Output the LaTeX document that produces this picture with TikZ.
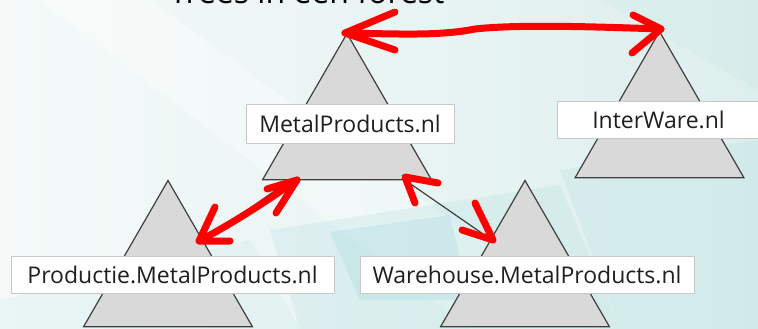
\documentclass[tikz,border=0pt]{standalone}
\usepackage{fontspec}
\setmainfont{Open Sans}
\usetikzlibrary{shapes.geometric}
\definecolor{bgA}{HTML}{F5FAF9}
\definecolor{bgB}{HTML}{DDEFED}
\definecolor{tealS}{HTML}{8FCFD6}
\definecolor{trifill}{HTML}{D9D9D9}
\definecolor{triline}{HTML}{3F3F3F}
\definecolor{lblline}{HTML}{C8C8C8}
\definecolor{redpen}{HTML}{FF0000}
\begin{document}
\begin{tikzpicture}[x=1pt,y=-1pt,
 tri/.style={regular polygon, regular polygon sides=3, minimum size=195pt, inner sep=0pt, fill=trifill, draw=triline, line width=1.2pt},
 lbl/.style={rectangle, fill=white, draw=lblline, line width=0.6pt, minimum height=37pt, inner sep=0pt, font=\fontsize{23}{26}\selectfont, text=black!88},
 pen/.style={draw=redpen, line width=7pt, line cap=round, line join=round},
 link/.style={draw=triline, line width=1.2pt}
]
\useasboundingbox (0,0) rectangle (758,329);
% background
\shade[left color=bgA, right color=bgB] (0,0) rectangle (758,329);
\fill[white, opacity=0.35] (40,0) -- (150,0) -- (600,329) -- (470,329) -- cycle;
\fill[tealS, opacity=0.16] (270,230) -- (560,185) -- (620,329) -- (300,329) -- cycle;
\fill[tealS, opacity=0.22] (330,232) -- (450,215) -- (470,300) -- (360,300) -- cycle;
\fill[tealS, opacity=0.15] (560,170) -- (758,140) -- (758,329) -- (620,329) -- cycle;
\fill[tealS, opacity=0.10] (0,300) -- (250,240) -- (300,329) -- (0,329) -- cycle;
\fill[tealS, opacity=0.08] (600,0) -- (758,0) -- (758,90) -- cycle;
% title (cut off at the top edge, as in the slide)
\node[anchor=base, font=\fontsize{32}{36}\selectfont, text=black] (title) at (307,4) {Trees in een forest};
% hierarchy links (behind triangles)
\coordinate (pm) at (347,140);
\coordinate (cw) at (525,263);
\coordinate (cp) at (172,263);
\draw[link] (pm) -- (cw);
\draw[link] (pm) -- (cp);
% triangles
\node[tri] (tmetal) at (347,131) {};
\node[tri] (tinter) at (659.5,129) {};
\node[tri] (tprod) at (168,278) {};
\node[tri] (tware) at (525,278) {};
% labels
\node[lbl, minimum width=208pt, minimum height=39pt] (lmetal) at (350,123.5) {MetalProducts.nl};
\node[lbl, minimum width=203pt] (linter) at (658.5,119.5) {InterWare.nl};
\node[lbl, minimum width=323pt] (lprod) at (172.5,274.5) {Productie.MetalProducts.nl};
\node[lbl, minimum width=334pt] (lware) at (527,274.5) {Warehouse.MetalProducts.nl};
% red pen arrows
\coordinate (ta) at (345,33);
\coordinate (tb) at (661,29);
\draw[pen] (ta) .. controls (400,34) and (440,36) .. (475,29) .. controls (520,24) and (600,27) .. (tb);
\draw[pen] (395,12) -- (ta) -- (395,50);
\draw[pen] (633,15) -- (tb) -- (632,53);
\coordinate (ra) at (297,180);
\coordinate (rb) at (199,241);
\draw[pen] (ra) .. controls (268,200) and (235,222) .. (rb);
\draw[pen] (267,189) -- (ra) -- (276,213);
\draw[pen] (215,207) -- (rb) -- (230,241);
\coordinate (rc) at (405,177);
\coordinate (rd) at (493,240);
\draw[pen] (438,183) -- (rc) -- (415,203);
\draw[pen] (475,203) -- (rd) -- (462,230);
\end{tikzpicture}
\end{document}
